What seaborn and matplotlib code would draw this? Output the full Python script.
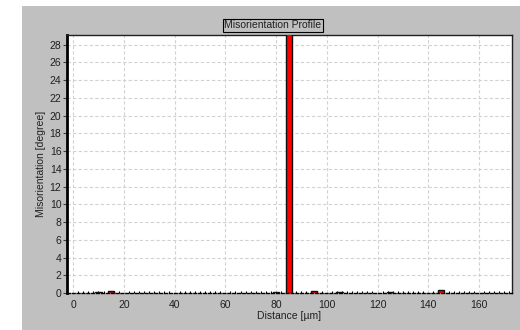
import matplotlib
matplotlib.use("Agg")
import matplotlib.pyplot as plt
import matplotlib.patches as mpatches
import numpy as np
import pandas as pd
import seaborn as sns

# Misorientation profile along the scan line
distance_um = [10, 15, 80, 85, 95, 105, 125, 145]
misorientation_deg = [0.1, 0.25, 0.1, 38.0, 0.2, 0.1, 0.1, 0.35]

x_ticks = [0, 20, 40, 60, 80, 100, 120, 140, 160]
y_ticks = list(range(0, 29, 2))

title_text = "Misorientation Profile"
x_label = "Distance [µm]"
y_label = "Misorientation [degree]"

df = pd.DataFrame({"distance": distance_um, "misorientation": misorientation_deg})

sns.set_theme(style="white")
plt.rcParams["font.family"] = ["Liberation Sans", "DejaVu Sans"]

W, H = 520, 330
fig = plt.figure(figsize=(W / 100, H / 100), dpi=100, facecolor="white")

panel_gray = "#c0c0c0"
fig.patches.append(mpatches.Rectangle((22 / W, 0), 1 - 22 / W, 1 - 6 / H,
                                      transform=fig.transFigure, facecolor=panel_gray,
                                      edgecolor="none", zorder=-10))

ax = fig.add_axes([67 / W, 1 - 293 / H, (512 - 67) / W, (293 - 35) / H])
ax.set_facecolor("white")

sns.barplot(data=df, x="distance", y="misorientation", native_scale=True,
            color="#ff0000", saturation=1, edgecolor="#101010", linewidth=1.0,
            width=0.5, ax=ax, zorder=3)

ax.set_xlim(-2.4, 173)
ax.set_ylim(0, 29.1)
ax.set_xticks(x_ticks)
ax.set_yticks(y_ticks)
ax.set_xticks(np.arange(0, 174, 2), minor=True)

ax.grid(True, which="major", color="#d2d2d2", linestyle=(0, (3, 2)), linewidth=0.8, zorder=0)
ax.set_axisbelow(True)

for side in ["top", "right"]:
    ax.spines[side].set_color("#202020")
    ax.spines[side].set_linewidth(1.0)
ax.spines["left"].set_color("black")
ax.spines["left"].set_linewidth(2.0)
ax.spines["bottom"].set_color("black")
ax.spines["bottom"].set_linewidth(1.0)
ax.spines["bottom"].set_linestyle((0, (2, 1.5)))

ax.tick_params(axis="y", which="major", direction="out", length=3, width=0.8,
               color="#404040", labelsize=7.5, labelcolor="#202020", pad=1, left=True)
ax.tick_params(axis="x", which="major", direction="out", length=0, labelsize=7.5,
               labelcolor="#202020", pad=5, bottom=True)
ax.tick_params(axis="x", which="minor", direction="in", length=1.5, width=0.8,
               color="black", bottom=True)

ax.set_xlabel(x_label, fontsize=7.5, color="#202020", labelpad=1)
ax.set_ylabel(y_label, fontsize=7.5, color="#202020", labelpad=3)

fig.text(273 / W, 1 - 25.5 / H, title_text, ha="center", va="center", fontsize=7.5,
         color="#202020",
         bbox=dict(boxstyle="square,pad=0.12", facecolor=panel_gray, edgecolor="black",
                   linewidth=0.8))

fig.savefig("out.png", dpi=100, facecolor="white")
